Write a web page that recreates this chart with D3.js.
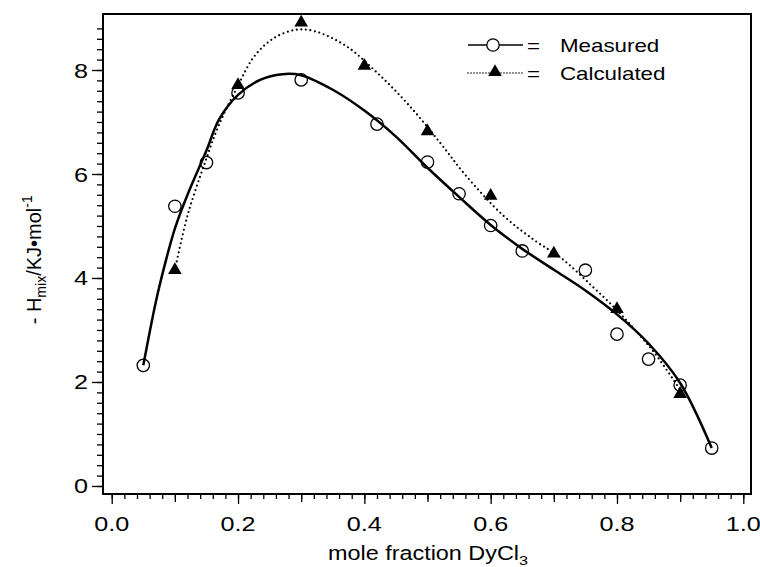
<!DOCTYPE html>
<html>
<head>
<meta charset="utf-8">
<script src="https://cdn.jsdelivr.net/npm/d3@7"></script>
<style>
    body { margin: 0; background: #fff; }
    text { font-family: "Liberation Sans", Arial, Helvetica, sans-serif; fill: #000; }
</style>
</head>
<body>
<div id="graph"></div>
<script>
// measured points (open circles)
const measuredX = [0.05, 0.1, 0.15, 0.2, 0.3, 0.42, 0.5, 0.55, 0.6, 0.65, 0.75, 0.8, 0.85, 0.9, 0.95];
const measuredY = [2.32, 5.38, 6.22, 7.56, 7.81, 6.96, 6.23, 5.62, 5.01, 4.52, 4.15, 2.92, 2.44, 1.94, 0.73];

// calculated points (filled triangles)
const calcX = [0.1, 0.2, 0.3, 0.4, 0.5, 0.6, 0.7, 0.8, 0.9];
const calcY = [4.15, 7.71, 8.91, 8.08, 6.82, 5.58, 4.47, 3.40, 1.77];

// fitted curve through measured points
const fitMeasX = [0.05, 0.07, 0.085, 0.1, 0.12, 0.15, 0.17, 0.2, 0.235, 0.27, 0.3, 0.35, 0.4, 0.45, 0.5, 0.55, 0.6, 0.65, 0.7, 0.75, 0.8, 0.85, 0.9, 0.95];
const fitMeasY = [2.32, 3.55, 4.3, 4.95, 5.6, 6.45, 7.05, 7.52, 7.81, 7.92, 7.9, 7.62, 7.22, 6.72, 6.12, 5.56, 5.02, 4.56, 4.16, 3.76, 3.3, 2.74, 1.98, 0.73];

// fitted curve through calculated points (dotted)
const fitCalcX = [0.1, 0.12, 0.15, 0.17, 0.2, 0.225, 0.255, 0.29, 0.32, 0.37, 0.42, 0.47, 0.52, 0.56, 0.62, 0.67, 0.71, 0.76, 0.8, 0.83, 0.86, 0.9];
const fitCalcY = [4.15, 5.2, 6.3, 6.95, 7.7, 8.25, 8.6, 8.77, 8.75, 8.47, 7.95, 7.33, 6.6, 5.98, 5.2, 4.72, 4.4, 3.85, 3.38, 2.98, 2.55, 1.85];

// tick values
const xMajor = [0.0, 0.2, 0.4, 0.6, 0.8, 1.0];
const xMid = [0.1, 0.3, 0.5, 0.7, 0.9];
const xMinor = d3.range(0, 51).map(i => i / 50);
const yMajor = [0, 2, 4, 6, 8];
const yMinor = d3.range(0, 45).map(i => i / 5);

const legendLabels = ["Measured", "Calculated"];

// the source figure has its lettering a little wider than Arial
const stretch = 1.2;

// set the dimensions of the graph
const width = 760,
    height = 567,
    frame = { left: 103, right: 751, top: 14, bottom: 494 };

let svg = d3.select("#graph")
    .append("svg")
    .attr("width", width)
    .attr("height", height);

// helper: text placed at (px, py) and widened horizontally
const wideText = (px, py, size, anchor) => svg.append("text")
    .attr("transform", "translate(" + px + "," + py + ") scale(" + stretch + ",1)")
    .attr("text-anchor", anchor)
    .attr("font-size", size + "px");

// scales
let x = d3.scaleLinear()
    .domain([-0.0138, 1.0122])
    .range([frame.left, frame.right]);

let y = d3.scaleLinear()
    .domain([-0.154, 9.077])
    .range([frame.bottom, frame.top]);

// X axis ticks
svg.append("g")
    .attr("transform", "translate(0," + frame.bottom + ")")
    .call(d3.axisBottom(x).tickValues(xMinor).tickSize(5).tickFormat(""));
svg.append("g")
    .attr("transform", "translate(0," + frame.bottom + ")")
    .call(d3.axisBottom(x).tickValues(xMid).tickSize(8).tickFormat(""));
svg.append("g")
    .attr("transform", "translate(0," + frame.bottom + ")")
    .call(d3.axisBottom(x).tickValues(xMajor).tickSize(10).tickFormat(""));

// Y axis ticks
svg.append("g")
    .attr("transform", "translate(" + frame.left + ",0)")
    .call(d3.axisLeft(y).tickValues(yMinor).tickSize(6).tickFormat(""));
svg.append("g")
    .attr("transform", "translate(" + frame.left + ",0)")
    .call(d3.axisLeft(y).tickValues(yMajor).tickSize(11).tickFormat(""));

svg.selectAll(".domain").remove();
svg.selectAll(".tick line").attr("stroke", "#000").attr("stroke-width", 1.3);

// tick labels
xMajor.forEach(d => {
    wideText(x(d), 531, 21, "middle").text(d3.format(".1f")(d));
});
yMajor.forEach(d => {
    wideText(88, y(d) + 7.5, 21, "end").text(d);
});

// frame
svg.append("rect")
    .attr("x", frame.left)
    .attr("y", frame.top)
    .attr("width", frame.right - frame.left)
    .attr("height", frame.bottom - frame.top)
    .attr("fill", "none")
    .attr("stroke", "#000")
    .attr("stroke-width", 2);

// axis titles
let xTitle = wideText(428, 560, 19.5, "middle");
xTitle.append("tspan").text("mole fraction DyCl");
xTitle.append("tspan").attr("font-size", "13.5px").attr("dy", "5").text("3");

let yTitle = svg.append("text")
    .attr("transform", "translate(41," + y(4.35) + ") rotate(-90)")
    .attr("text-anchor", "middle")
    .attr("font-size", "20px");
yTitle.append("tspan").text("-  H");
yTitle.append("tspan").attr("font-size", "14px").attr("dy", "5").text("mix");
yTitle.append("tspan").attr("dy", "-5").text("/KJ\u2022mol");
yTitle.append("tspan").attr("font-size", "14px").attr("dy", "-9").text("-1");

// curves
let line = d3.line()
    .x(d => x(d[0]))
    .y(d => y(d[1]))
    .curve(d3.curveCatmullRom.alpha(0.5));

svg.append("path")
    .datum(d3.zip(fitCalcX, fitCalcY))
    .attr("d", line)
    .attr("fill", "none")
    .attr("stroke", "#000")
    .attr("stroke-width", 2.2)
    .attr("stroke-linecap", "round")
    .attr("stroke-dasharray", "0,4.6");

svg.append("path")
    .datum(d3.zip(fitMeasX, fitMeasY))
    .attr("d", line)
    .attr("fill", "none")
    .attr("stroke", "#000")
    .attr("stroke-width", 2.5);

// markers
svg.append("g")
    .selectAll("circle")
    .data(d3.zip(measuredX, measuredY))
    .enter()
    .append("circle")
    .attr("cx", d => x(d[0]))
    .attr("cy", d => y(d[1]))
    .attr("r", 6.2)
    .attr("fill", "none")
    .attr("stroke", "#000")
    .attr("stroke-width", 1.3);

let tri = d3.symbol().type(d3.symbolTriangle).size(80);

svg.append("g")
    .selectAll("path")
    .data(d3.zip(calcX, calcY))
    .enter()
    .append("path")
    .attr("d", tri)
    .attr("transform", d => "translate(" + x(d[0]) + "," + y(d[1]) + ")")
    .attr("fill", "#000");

// legend
let legend = svg.append("g");
let rows = [45, 73];

legend.append("line")
    .attr("x1", 468).attr("x2", 523)
    .attr("y1", rows[0]).attr("y2", rows[0])
    .attr("stroke", "#000").attr("stroke-width", 1.6);
legend.append("circle")
    .attr("cx", 493).attr("cy", rows[0]).attr("r", 6.2)
    .attr("fill", "#fff").attr("stroke", "#000").attr("stroke-width", 1.3);

legend.append("line")
    .attr("x1", 468).attr("x2", 523)
    .attr("y1", rows[1]).attr("y2", rows[1])
    .attr("stroke", "#000").attr("stroke-width", 1.6)
    .attr("stroke-linecap", "round")
    .attr("stroke-dasharray", "0,3");
legend.append("path")
    .attr("d", tri)
    .attr("transform", "translate(495," + (rows[1] - 1) + ")")
    .attr("fill", "#000");

legendLabels.forEach((d, i) => {
    wideText(527, rows[i] + 6.5, 18.6, "start").text("=");
    wideText(560, rows[i] + 6.5, 18.6, "start").text(d);
});
</script>
</body>
</html>
